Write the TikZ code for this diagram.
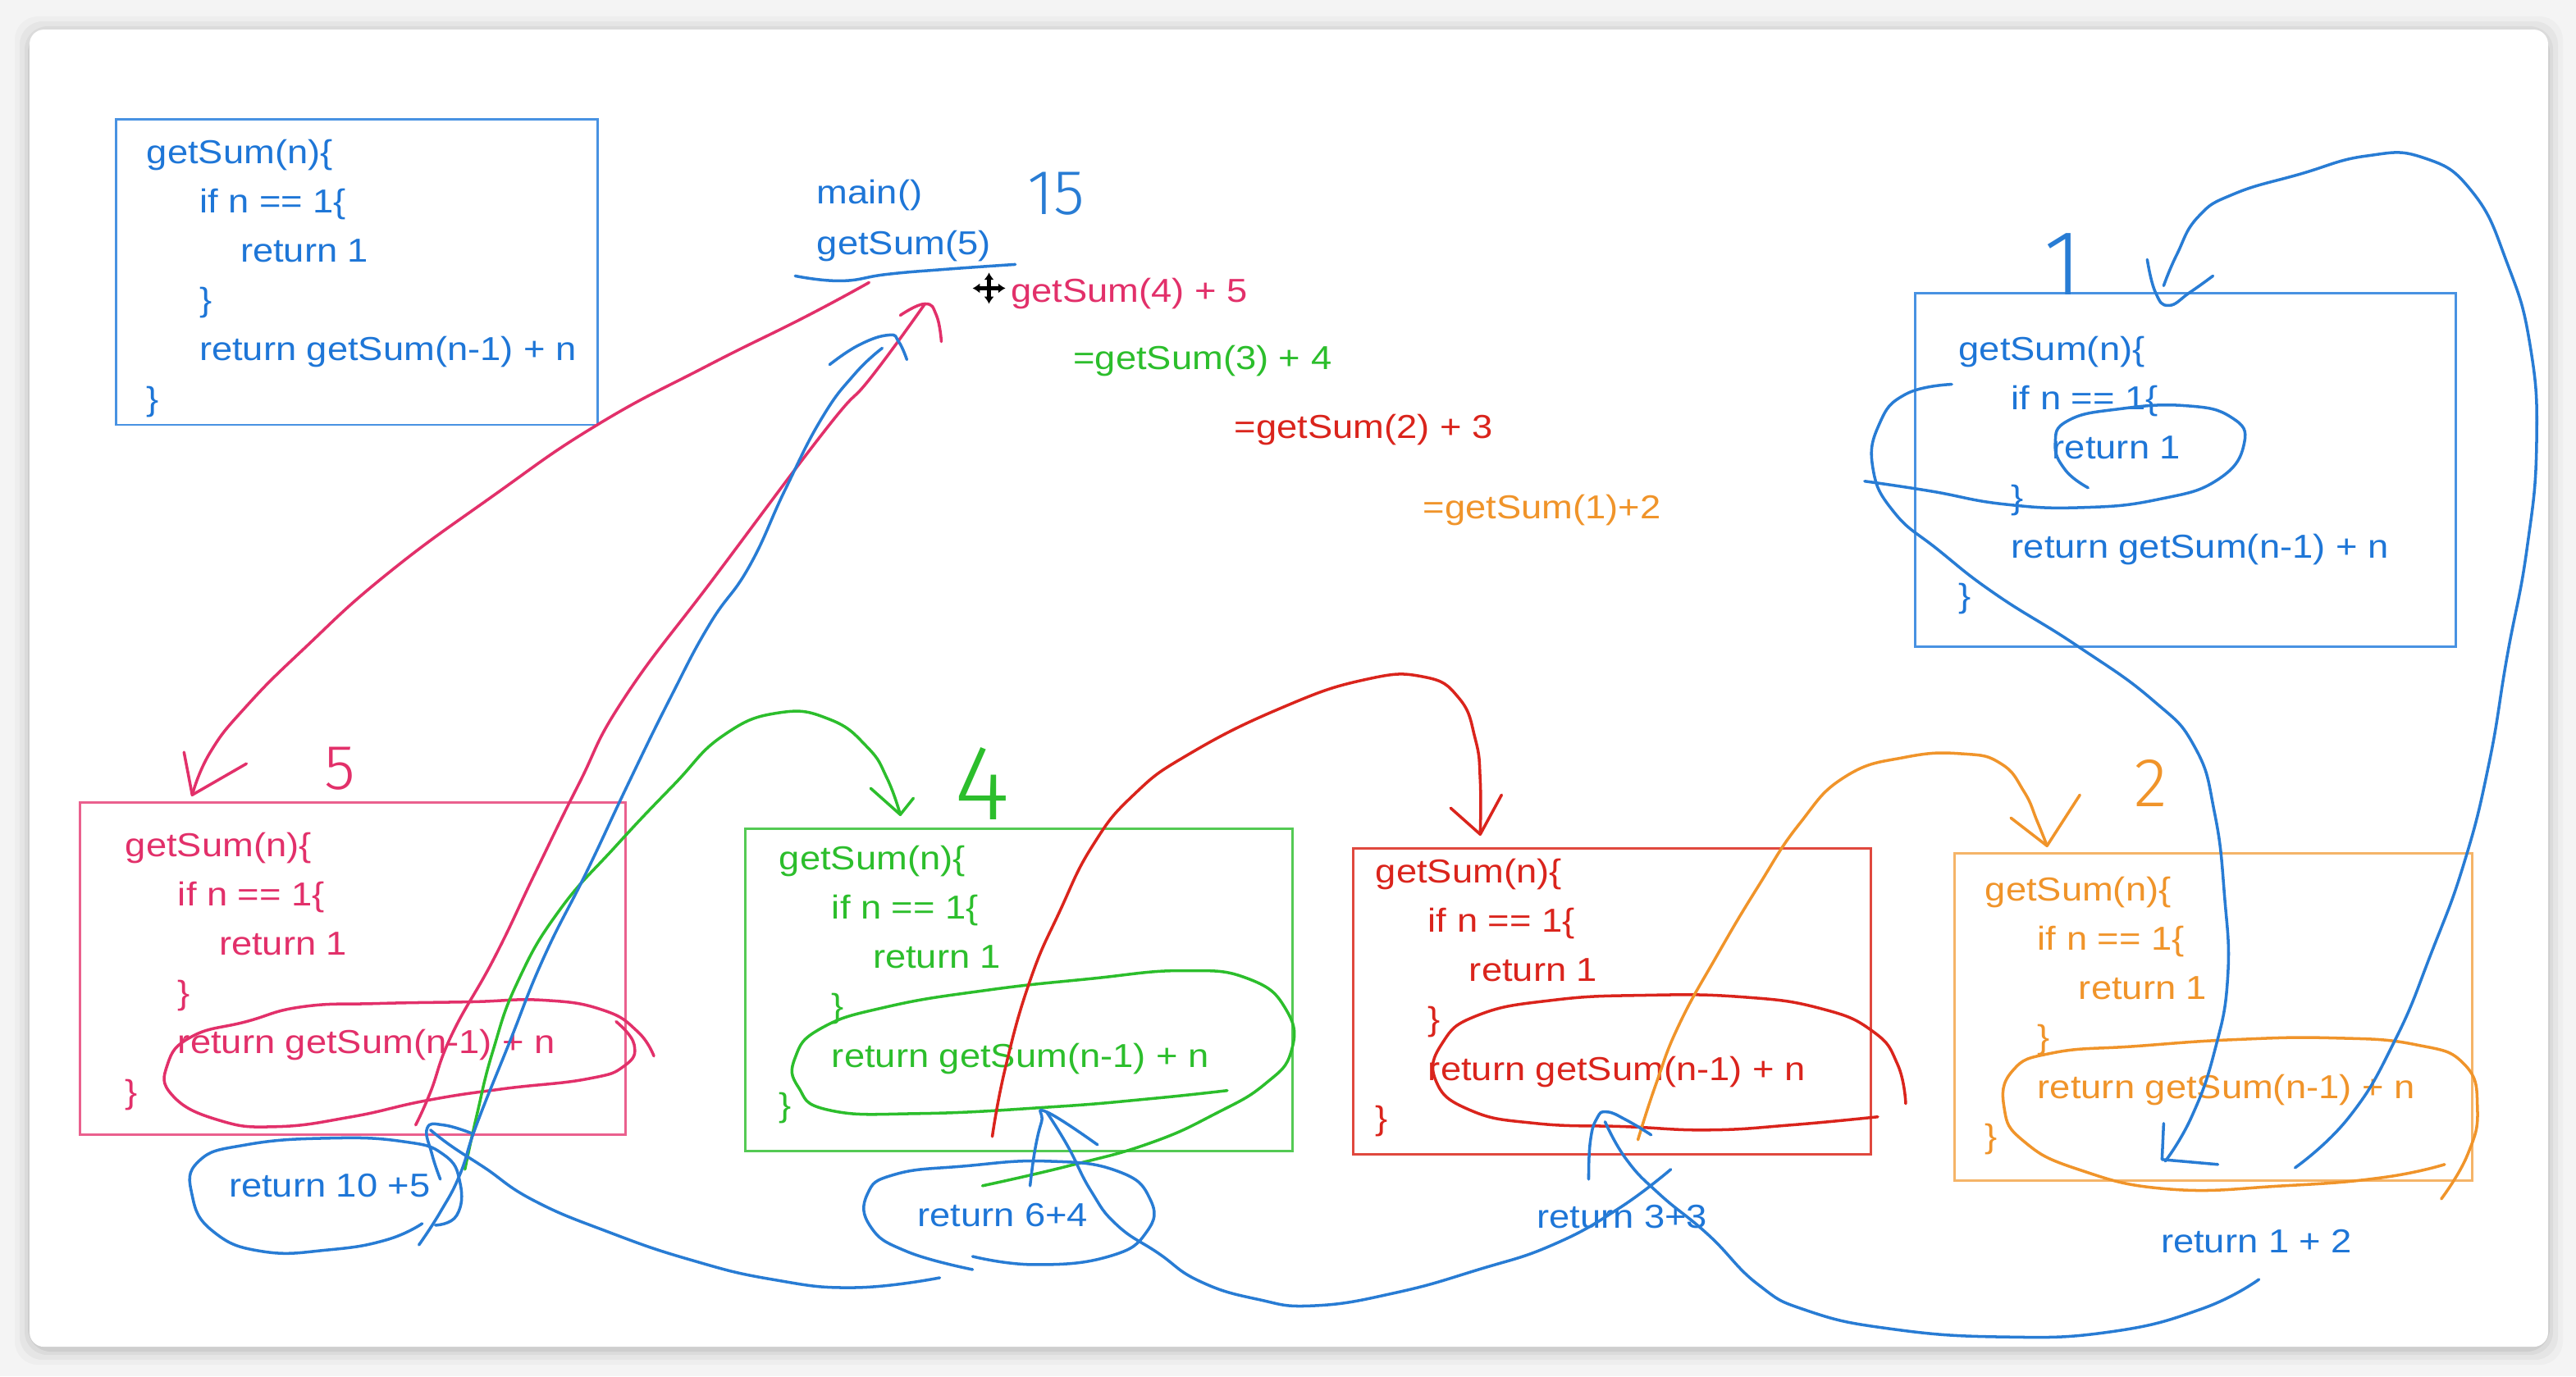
\documentclass[tikz,border=0pt]{standalone}
\usepackage{fontspec}
\setmainfont{Liberation Sans}
\newfontfamily\codefont{Liberation Sans}[FakeStretch=1.12]
\newfontfamily\handfont{Fira Sans Light}
\usetikzlibrary{arrows.meta}
\definecolor{codeblue}{RGB}{30,118,215}
\definecolor{boxblue}{RGB}{72,146,226}
\definecolor{penblue}{RGB}{40,124,212}
\definecolor{codepink}{RGB}{226,48,106}
\definecolor{boxpink}{RGB}{234,96,142}
\definecolor{codegreen}{RGB}{44,190,44}
\definecolor{boxgreen}{RGB}{84,202,84}
\definecolor{codered}{RGB}{218,36,28}
\definecolor{boxred}{RGB}{224,72,62}
\definecolor{codeorange}{RGB}{240,148,42}
\definecolor{boxorange}{RGB}{245,180,104}
\tikzset{
  sumbox/.style={draw=#1, line width=0.8pt, anchor=north west, inner sep=0pt},
  sumcode/.style={text=#1, font=\codefont\fontsize{11.5}{17.1}\selectfont, align=left, inner sep=0pt, anchor=north west},
  sumnote/.style={text=#1, font=\codefont\fontsize{11.5}{17.1}\selectfont, inner sep=0pt, anchor=base west},
  handnum/.style={text=#1, inner sep=0pt},
  ink/.style={draw=#1, line width=1pt, line cap=round, line join=round},
  freehand/.style={smooth, tension=0.8},
}
\newcommand{\getsumlines}{getSum(n)\{\\\hspace*{0.64cm}if n == 1\{\\\hspace*{1.14cm}return 1\\\hspace*{0.64cm}\}\\\hspace*{0.64cm}return getSum(n-1) + n\\\}}

\begin{document}
\begin{tikzpicture}[x=0.02cm, y=-0.02cm]
\useasboundingbox (0,0) rectangle (1568,838);
\fill[gray!9] (0,0) rectangle (1568,838);
\foreach \s/\o in {9/0.025, 6/0.035, 3/0.045, 1/0.06}
  \fill[black, opacity=\o, rounded corners=8pt] (18-\s,19-\s) rectangle (1551+\s,822+\s);
\fill[white, rounded corners=5pt] (18,18) rectangle (1551,820);

\node[sumbox=boxblue, minimum width=5.86cm, minimum height=3.72cm] (defbox) at (70,72) {};
\node[sumcode=codeblue] (deftext) at (89,84.5) {\getsumlines};
\node[sumbox=boxpink, minimum width=6.64cm, minimum height=4.04cm] (call5) at (48,488) {};
\node[sumcode=codepink] (code5) at (76,506.5) {\getsumlines};
\node[sumbox=boxgreen, minimum width=6.66cm, minimum height=3.92cm] (call4) at (453,504) {};
\node[sumcode=codegreen] (code4) at (474,514.5) {\getsumlines};
\node[sumbox=boxred, minimum width=6.30cm, minimum height=3.72cm] (call3) at (823,516) {};
\node[sumcode=codered] (code3) at (837,522.5) {\getsumlines};
\node[sumbox=boxorange, minimum width=6.30cm, minimum height=3.98cm] (call2) at (1189,519) {};
\node[sumcode=codeorange] (code2) at (1208,533.5) {\getsumlines};
\node[sumbox=boxblue, minimum width=6.58cm, minimum height=4.30cm] (call1) at (1165,178) {};
\node[sumcode=codeblue] (code1) at (1192,204.5) {\getsumlines};

\node[sumnote=codeblue] (main) at (497,124) {main()};
\node[sumnote=codeblue] (start) at (497,155) {getSum(5)};
\node[sumnote=codepink] (step5) at (615,184) {getSum(4) + 5};
\node[sumnote=codegreen] (step4) at (653,225) {=getSum(3) + 4};
\node[sumnote=codered] (step3) at (751,267) {=getSum(2) + 3};
\node[sumnote=codeorange] (step2) at (866,316) {=getSum(1)+2};
\node[sumnote=codeblue] (ret5) at (139,729) {return 10 +5};
\node[sumnote=codeblue] (ret4) at (558,747) {return 6+4};
\node[sumnote=codeblue] (ret3) at (935,748) {return 3+3};
\node[sumnote=codeblue] (ret2) at (1315,763) {return 1 + 2};

\node[handnum=penblue, font=\handfont\fontsize{22}{24}\selectfont] (total) at (643,118) {15};
\node[handnum=codepink, font=\handfont\fontsize{22}{24}\selectfont] (num5) at (207,468) {5};
\node[handnum=codegreen, font=\handfont\fontsize{37}{40}\selectfont] (num4) at (598,477) {4};
\node[handnum=codeorange, font=\handfont\fontsize{24}{26}\selectfont] (num2) at (1309,477) {2};
\node[handnum=penblue, font=\handfont\fontsize{32}{36}\selectfont] (num1) at (1256,161) {1};

\draw[line width=1.4pt, {Latex[length=2.5pt,width=3.5pt]}-{Latex[length=2.5pt,width=3.5pt]}] (602,166) -- (602,185);
\draw[line width=1.4pt, {Latex[length=2.5pt,width=3.5pt]}-{Latex[length=2.5pt,width=3.5pt]}] (592,175.5) -- (612,175.5);

\draw[ink=penblue] plot[freehand] coordinates {(484,168) (512,171) (540,167) (575,164) (618,161)};

\draw[ink=codepink] plot[freehand] coordinates {(529,172) (490,193) (430,223) (363,259) (300,302) (235,350) (185,395) (150,430) (128,458) (117,484)};
\draw[ink=codepink] (112,458) -- (117,484) -- (150,465);
\draw[ink=codepink] plot[freehand] coordinates {(253,685) (262,665) (275,630) (301,583) (326,531) (352,478) (380,425) (436,350) (503,261) (530,230) (563,185)};
\draw[ink=codepink] plot[freehand] coordinates {(548,192) (563,185) (570,192) (573,208)};
\draw[ink=codepink] plot[freehand] coordinates {(398,643) (388,628) (367,615) (331,609) (286,610) (230,611) (184,613) (150,622) (117,631) (102,648) (105,667) (133,682) (168,686) (214,680) (260,670) (306,663) (357,657) (380,649) (386,636) (375,622)};

\draw[ink=codegreen] plot[freehand] coordinates {(283,712) (290,680) (300,640) (315,598) (340,555) (375,515) (410,478) (440,448) (474,434) (505,438) (528,455) (540,474) (548,496)};
\draw[ink=codegreen] (530,480) -- (548,496) -- (556,486);
\draw[ink=codegreen] plot[freehand] coordinates {(747,664) (700,669) (640,674) (560,678) (505,676) (486,662) (484,644) (500,626) (540,613) (600,603) (663,596) (720,591) (760,596) (783,615) (786,640) (770,660) (740,678) (700,696) (650,710) (598,722)};

\draw[ink=codered] plot[freehand] coordinates {(604,692) (612,650) (627,597) (645,555) (665,515) (690,484) (724,459) (780,431) (830,414) (866,412) (888,425) (898,450) (901,475) (901,508)};
\draw[ink=codered] (883,492) -- (901,508) -- (914,484);
\draw[ink=codered] plot[freehand] coordinates {(1143,680) (1090,685) (1040,688) (990,686) (935,684) (895,676) (874,658) (878,635) (900,618) (945,609) (1000,606) (1060,607) (1108,614) (1140,628) (1155,648) (1160,672)};

\draw[ink=codeorange] plot[freehand] coordinates {(997,694) (1008,660) (1022,624) (1045,582) (1070,540) (1095,502) (1123,473) (1160,461) (1195,459) (1218,465) (1232,482) (1240,500) (1246,515)};
\draw[ink=codeorange] (1224,498) -- (1246,515) -- (1266,484);
\draw[ink=codeorange] plot[freehand] coordinates {(1486,730) (1502,703) (1508,675) (1500,648) (1470,636) (1420,632) (1360,633) (1300,637) (1250,641) (1225,652) (1220,675) (1232,695) (1265,712) (1320,724) (1390,722) (1450,717) (1488,709)};

\draw[ink=penblue] plot[freehand] coordinates {(1397,711) (1430,680) (1458,633) (1480,580) (1500,525) (1515,465) (1526,400) (1538,335) (1544,270) (1540,210) (1526,160) (1505,117) (1475,96) (1440,95) (1400,106) (1360,118) (1338,132) (1325,155) (1317,174)};
\draw[ink=penblue] plot[freehand] coordinates {(1307,158) (1312,178) (1320,186) (1333,178) (1347,168)};
\draw[ink=penblue] plot[freehand] coordinates {(1188,234) (1160,240) (1144,258) (1140,285) (1153,312) (1180,335) (1215,362) (1264,393) (1310,426) (1336,455) (1348,495) (1354,545) (1356,595) (1348,640) (1334,680) (1318,707)};
\draw[ink=penblue] (1317,684) -- (1316,706) -- (1350,709);
\draw[ink=penblue] plot[freehand] coordinates {(1135,293) (1175,299) (1220,307) (1268,309) (1314,304) (1350,292) (1366,270) (1358,254) (1330,247) (1290,249) (1259,256) (1251,270) (1257,286) (1271,297)};

\draw[ink=penblue] plot[freehand] coordinates {(1375,779) (1340,797) (1284,811) (1218,814) (1150,809) (1100,798) (1070,782) (1040,752) (1010,727) (990,706) (977,683)};
\draw[ink=penblue] plot[freehand] coordinates {(967,718) (968,695) (972,681) (978,677) (990,682) (1005,691)};
\draw[ink=penblue] plot[freehand] coordinates {(1017,712) (985,736) (945,758) (900,773) (850,787) (800,795) (765,791) (730,780) (705,763) (680,746) (664,725) (650,698) (637,677)};
\draw[ink=penblue] plot[freehand] coordinates {(627,722) (630,700) (634,683) (637,677) (668,697)};
\draw[ink=penblue] plot[freehand] coordinates {(592,765) (630,770) (675,765) (698,750) (700,730) (680,713) (637,707) (587,710) (545,715) (528,727) (530,747) (552,762) (592,773)};
\draw[ink=penblue] plot[freehand] coordinates {(572,778) (520,784) (470,779) (420,767) (370,750) (325,731) (295,711) (275,698) (262,688)};
\draw[ink=penblue] plot[freehand] coordinates {(268,718) (263,703) (260,687) (270,685) (287,690)};
\draw[ink=penblue] plot[freehand] coordinates {(257,745) (235,755) (200,761) (160,762) (130,750) (117,728) (121,707) (150,697) (200,693) (245,695) (270,703) (280,720) (278,740) (265,746)};
\draw[ink=penblue] plot[freehand] coordinates {(255,758) (268,738) (280,715) (290,685) (310,635) (331,583) (357,531) (382,478) (408,425) (432,380) (456,345) (478,298) (500,255) (520,228) (537,212)};
\draw[ink=penblue] plot[freehand] coordinates {(505,222) (523,210) (541,204) (547,208) (552,219)};
\end{tikzpicture}
\end{document}
